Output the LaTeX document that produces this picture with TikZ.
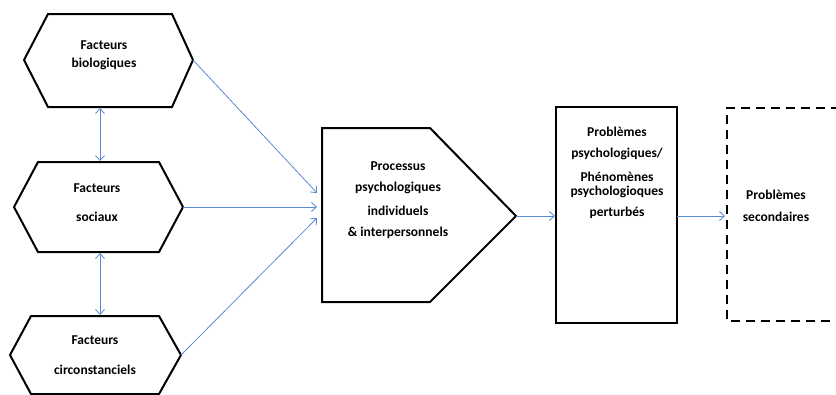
\documentclass[tikz,border=0pt]{standalone}
\usepackage{fontspec}
\setmainfont{Carlito}
\usetikzlibrary{arrows.meta}
\definecolor{linkblue}{HTML}{5B8AD0}
\tikzset{
  shapeline/.style={draw=black, line width=2pt, line join=miter},
  dashline/.style={draw=black, line width=2pt, dash pattern=on 9pt off 6pt},
  link/.style={draw=linkblue, line width=0.8pt, -{Straight Barb[length=5pt,width=9pt]}},
  dlink/.style={draw=linkblue, line width=0.8pt, {Straight Barb[length=5pt,width=9pt]}-{Straight Barb[length=5pt,width=9pt]}},
  lbl/.style={font=\bfseries\fontsize{13.5}{15}\selectfont, align=center, inner sep=0pt}
}
\begin{document}
\begin{tikzpicture}[x=1pt,y=-1pt]
\useasboundingbox (0,0) rectangle (836,394);
% hexagon 1
\draw[shapeline] (48,14) -- (172,14) -- (193,60) coordinate (h1r) -- (172,107) -- (48,107) -- (24,60) -- cycle;
\coordinate (h1b) at (100,108);
\node[lbl] (t1a) at (104,45) {Facteurs};
\node[lbl] (t1b) at (104,64) {biologiques};
% hexagon 2
\draw[shapeline] (38,162) -- (159,162) -- (183,207) coordinate (h2r) -- (159,252) -- (38,252) -- (14,207) -- cycle;
\coordinate (h2t) at (100,161);
\coordinate (h2b) at (100,253);
\node[lbl] (t2a) at (97,188) {Facteurs};
\node[lbl] (t2b) at (97,217) {sociaux};
% hexagon 3
\draw[shapeline] (31,316) -- (159,316) -- (181,355) coordinate (h3r) -- (159,394) -- (31,394) -- (10,355) -- cycle;
\coordinate (h3t) at (100,315);
\node[lbl] (t3a) at (95,340) {Facteurs};
\node[lbl] (t3b) at (95,370) {circonstanciels};
% pentagon
\draw[shapeline] (322,128) -- (430,128) -- (516,216) coordinate (ptip) -- (430,302) -- (322,302) -- cycle;
\coordinate (pin1) at (317,193);
\coordinate (pin2) at (317,207);
\coordinate (pin3) at (317,218);
\node[lbl] (p1) at (398,166) {Processus};
\node[lbl] (p2) at (398,188) {psychologiques};
\node[lbl] (p3) at (398,211) {individuels};
\node[lbl] (p4) at (398,233) {\& interpersonnels};
% rectangle
\draw[shapeline] (556,107) rectangle (677,323);
\coordinate (rin) at (555,216);
\coordinate (rout) at (677,216);
\node[lbl] (r1) at (617,132) {Problèmes};
\node[lbl] (r2) at (617,154) {psychologiques/};
\node[lbl] (r3) at (617,177) {Phénomènes};
\node[lbl] (r4) at (617,192) {psychologioques};
\node[lbl] (r5) at (617,213) {perturbés};
% dashed box
\draw[dashline] (840,108) -- (727,108) -- (727,321) -- (840,321);
\coordinate (din) at (725,216);
\node[lbl] (d1) at (776,195) {Problèmes};
\node[lbl] (d2) at (776,217) {secondaires};
% connectors
\draw[dlink] (h1b) -- (h2t);
\draw[dlink] (h2b) -- (h3t);
\draw[link] (h1r) -- (pin1);
\draw[link] (h2r) -- (pin2);
\draw[link] (h3r) -- (pin3);
\draw[link] (ptip) -- (rin);
\draw[link] (rout) -- (din);
\end{tikzpicture}
\end{document}
